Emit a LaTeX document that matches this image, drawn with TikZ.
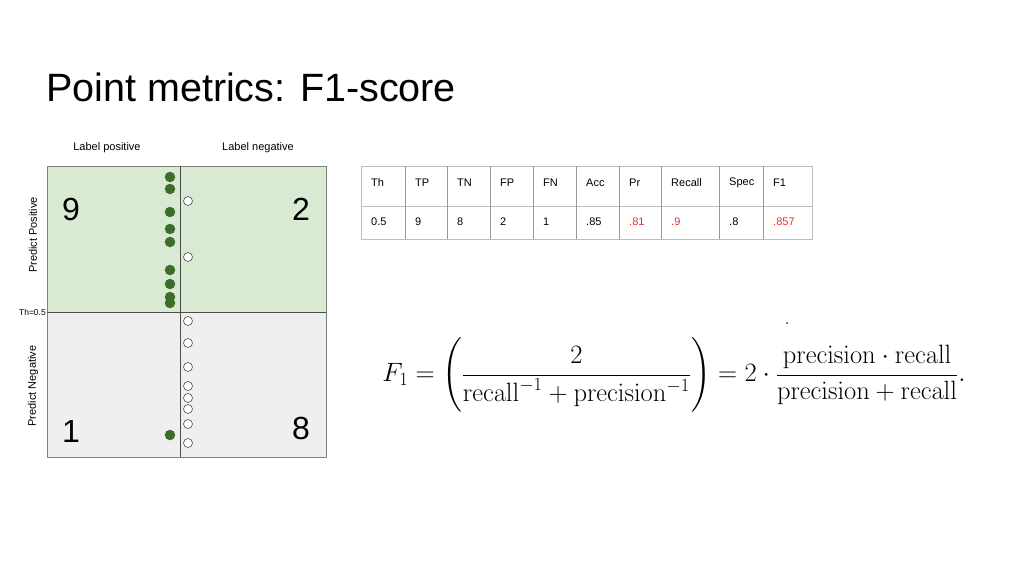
\RequirePackage{fix-cm}
\documentclass[tikz,border=0pt]{standalone}
\usepackage{amsmath}
\usepackage[no-math]{fontspec}
\setmainfont{Liberation Sans}
\usetikzlibrary{positioning}

\definecolor{posfill}{HTML}{D9EAD3}
\definecolor{negfill}{HTML}{EFEFEF}
\definecolor{dotgreen}{HTML}{3B6E2B}
\definecolor{gridgray}{HTML}{BDBDBD}
\definecolor{redval}{HTML}{E53030}

\tikzset{
    small label/.style={font=\fontsize{11}{13}\selectfont, inner sep=0pt},
    big count/.style={font=\fontsize{32}{36}\selectfont, inner sep=0pt},
    pos dot/.style={circle, fill=dotgreen, inner sep=0pt, minimum size=10.5pt},
    neg dot/.style={circle, draw=black!70, fill=white, line width=0.6pt, inner sep=0pt, minimum size=9pt},
    cell text/.style={font=\fontsize{11}{13}\selectfont, anchor=west, inner sep=0pt}
}

\begin{document}
\begin{tikzpicture}[x=1pt, y=-1pt]
    \useasboundingbox (0,0) rectangle (1024,576);

    % title
    \node[anchor=base west, inner sep=0pt, font=\fontsize{39.5}{46}\selectfont] (title) at (46,101) {Point metrics: F1-score};

    % confusion matrix
    \fill[posfill] (47,166) rectangle (326,312);
    \fill[negfill] (47,312) rectangle (326,457);
    \draw[gray, line width=0.6pt] (47,166) rectangle (326,457);
    \draw[black!70, line width=0.8pt] (47,312) -- (326,312);
    \draw[black!70, line width=0.8pt] (180,166) -- (180,457);

    \node[small label] (lpos) at (107,148) {Label positive};
    \node[small label] (lneg) at (258,148) {Label negative};
    \node[small label, rotate=90] (ppos) at (33,235) {Predict Positive};
    \node[small label, rotate=90] (pneg) at (33,386) {Predict Negative};
    \node[anchor=east, inner sep=0pt, font=\fontsize{8.5}{10}\selectfont] (th) at (46,312) {Th=0.5};

    \node[big count] (tp) at (71,209) {9};
    \node[big count] (fp) at (301,209) {2};
    \node[big count] (fn) at (71,431) {1};
    \node[big count] (tn) at (301,428) {8};

    % samples
    \foreach \y [count=\i] in {177,189,212,229,242,270,284,297,303,435}
        \node[pos dot] (p\i) at (170,\y) {};
    \foreach \y [count=\i] in {201,257,321,343,367,386,398,409,424,443}
        \node[neg dot] (n\i) at (188,\y) {};

    % metrics table
    \draw[gridgray, line width=0.8pt] (361,166) rectangle (812,239);
    \draw[gridgray, line width=0.8pt] (361,206) -- (812,206);
    \foreach \x in {405,447,490,533,576,619,661,719,763}
        \draw[gridgray!80!black, line width=0.8pt] (\x,166) -- (\x,239);
    \foreach \x/\h/\v/\c [count=\i] in {361/Th/0.5/black, 405/TP/9/black, 447/TN/8/black,
        490/FP/2/black, 533/FN/1/black, 576/Acc/.85/black, 619/Pr/.81/redval,
        661/Recall/.9/redval, 719/Spec/.8/black, 763/F1/.857/redval}
    {
        \node[cell text] (h\i) at (\x+10,183) {\h};
        \node[cell text, text=\c] (v\i) at (\x+10,222) {\v};
    }

    % formula
    \node[inner sep=0pt, font=\fontsize{26.5}{32}\selectfont] (f1) at (674,375)
        {$\displaystyle F_1=\left(\vphantom{\rule[-30pt]{0pt}{60pt}}\frac{2}{\mathrm{recall}^{-1}+\mathrm{precision}^{-1}}\right)=2\cdot\frac{\mathrm{precision}\cdot\mathrm{recall}}{\mathrm{precision}+\mathrm{recall}}.$};
    \fill[black!80] (787,323) circle (1pt);
\end{tikzpicture}
\end{document}
